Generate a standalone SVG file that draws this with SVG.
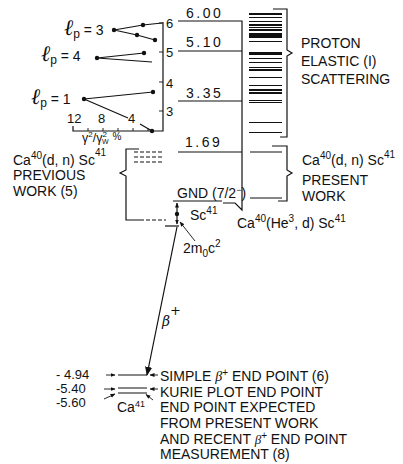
<svg xmlns="http://www.w3.org/2000/svg" width="403" height="464" viewBox="0 0 403 464">
<defs>
<style>
text{font-family:"Liberation Sans","DejaVu Sans",Arial,sans-serif;fill:#111;font-size:14px}
.num{letter-spacing:2.5px}
.tk{font-size:13px}
.sm{font-size:12.5px}
.ln{stroke:#111;stroke-width:1.2;fill:none}
.thin{stroke:#111;stroke-width:0.9;fill:none}
.dash{stroke:#111;stroke-width:1.1;fill:none;stroke-dasharray:4,2}
.bar{stroke:#111;fill:none}
.dot{fill:#111}
.gk{font-family:"DejaVu Serif","Liberation Serif",serif;font-style:italic}
.gs{font-family:"Liberation Serif","DejaVu Serif",serif;font-style:italic}
.ell{font-family:"DejaVu Serif","Liberation Serif",serif;font-style:italic;font-size:22px}
.bl{font-size:13px}
</style>
<marker id="ah" viewBox="0 0 10 10" refX="9" refY="5" markerWidth="9" markerHeight="9" markerUnits="userSpaceOnUse" orient="auto"><path d="M0,1 L10,5 L0,9 Z" fill="#111"/></marker>
<marker id="as" viewBox="0 0 10 10" refX="9" refY="5" markerWidth="5" markerHeight="5" markerUnits="userSpaceOnUse" orient="auto"><path d="M0,1 L10,5 L0,9 Z" fill="#111"/></marker>
</defs>
<rect width="403" height="464" fill="#fff"/>

<g id="plot">
<path class="ln" d="M163,22 V131 H73 V126"/>
<path class="thin" d="M159,23 H163 M159,52 H163 M159,82 H163 M159,111 H163 M88,131 V128 M103,131 V128 M118,131 V128 M133,131 V128 M148,131 V128"/>
<text class="tk" x="166" y="28">6</text>
<text class="tk" x="166" y="57">5</text>
<text class="tk" x="166" y="88">4</text>
<text class="tk" x="166" y="116">3</text>
<text class="tk" x="67" y="123">12</text>
<text class="tk" x="98" y="123">8</text>
<text class="tk" x="128" y="123">4</text>
<text class="sm" x="82" y="142">γ<tspan font-size="8" dy="-5">2</tspan><tspan dy="5">/γ</tspan><tspan font-size="8" dy="-5">2</tspan><tspan font-size="7" dx="-5" dy="7">W</tspan><tspan font-size="10" dx="4" dy="-4">%</tspan></text>
<path class="ln" d="M114,30 L143,25 L162,23 M114,30 L137,35 L155,40"/>
<circle class="dot" cx="114" cy="30" r="2.2"/><circle class="dot" cx="143" cy="25" r="2.2"/><circle class="dot" cx="137" cy="35" r="2.2"/><circle class="dot" cx="155" cy="40" r="2.2"/>
<path class="ln" d="M97,58 L144,53 M97,58 L152,62"/>
<circle class="dot" cx="97" cy="58" r="2.2"/><circle class="dot" cx="144" cy="53" r="2.2"/>
<path class="ln" d="M84,99 L153,92 M84,99 L128,118 M140,124 L152,131"/>
<circle class="dot" cx="84" cy="99" r="2.2"/><circle class="dot" cx="153" cy="92" r="2.2"/><circle class="dot" cx="152" cy="131" r="2.2"/>
<text x="64" y="35"><tspan class="ell">ℓ</tspan><tspan font-size="12" dy="3">p</tspan><tspan dy="-3"> = 3</tspan></text>
<text x="41" y="61"><tspan class="ell">ℓ</tspan><tspan font-size="12" dy="3">p</tspan><tspan dy="-3"> = 4</tspan></text>
<text x="31" y="104"><tspan class="ell">ℓ</tspan><tspan font-size="12" dy="3">p</tspan><tspan dy="-3"> = 1</tspan></text>
</g>

<g id="levels">
<path class="ln" d="M178,21 H242 V210 L235,203 H223 M178,51 H242 M178,101 H242 M178,152 H242 M173,201 H222"/>
<text class="num" x="186" y="18">6.00</text>
<text class="num" x="186" y="47">5.10</text>
<text class="num" x="186" y="98">3.35</text>
<text class="num" x="185" y="147">1.69</text>
<text x="177" y="198" font-size="12.5">GND (7/2<tspan font-size="9" dy="-5">−</tspan><tspan dy="5">)</tspan></text>
<text x="237" y="228">Ca<tspan font-size="10" dy="-6">40</tspan><tspan dy="6">(He</tspan><tspan font-size="10" dy="-6">3</tspan><tspan dy="6">, d) Sc</tspan><tspan font-size="10" dy="-6">41</tspan></text>
</g>

<g id="proton-bars">
<path class="bar" stroke-width="2" d="M249,14 H282"/>
<path class="bar" stroke-width="1" d="M249,17.5 H282 M249,21.5 H282 M249,27.5 H282 M249,41.5 H282 M249,58.5 H282 M249,62.5 H282 M249,67.5 H282 M249,77.5 H282 M249,85.5 H282 M249,100.5 H282 M249,102.5 H282 M249,122.5 H282 M249,132.5 H282"/>
<path class="bar" stroke-width="2" d="M249,25 H282 M249,30 H282 M249,70 H282 M249,90 H282 M249,93 H282"/>
<rect x="249" y="33" width="33" height="5" fill="#111"/>
<rect x="249" y="52" width="33" height="3" fill="#111"/>
<path class="ln" d="M273,9 H287 V50 L292,53 L287,56 V137 H280"/>
<text x="301" y="48">PROTON</text>
<text x="301" y="66">ELASTIC (I)</text>
<text x="301" y="84">SCATTERING</text>
</g>

<g id="present-work">
<path class="ln" d="M250,152 H282 M250,198 H282"/>
<path class="ln" d="M272,146 H287 V170 L292,173 L287,176 V201 H278"/>
<text x="302" y="165">Ca<tspan font-size="10" dy="-6">40</tspan><tspan dy="6">(d, n) Sc</tspan><tspan font-size="10" dy="-7">41</tspan></text>
<text x="302" y="185">PRESENT</text>
<text x="302" y="201">WORK</text>
</g>

<g id="previous-work">
<path class="ln" d="M139,149 H126 V170 L120,173 L126,176 V220 H140"/>
<path class="dash" d="M134,152 H164 M134,157 H164 M134,162 H164 M140,220 H166"/>
<text x="13" y="165">Ca<tspan font-size="10" dy="-6">40</tspan><tspan dy="6">(d, n) Sc</tspan><tspan font-size="10" dy="-9">41</tspan></text>
<text x="13" y="180">PREVIOUS</text>
<text x="13" y="196">WORK (5)</text>
</g>

<g id="sc41">
<path class="ln" d="M177,214 V203" marker-end="url(#as)"/>
<path class="ln" d="M177,214 V224" marker-end="url(#as)"/>
<circle class="dot" cx="177" cy="214" r="2.2"/>
<path class="ln" d="M165,226 H179"/>
<path class="thin" d="M195,241 L180,222" marker-end="url(#as)"/>
<text x="190" y="220">Sc<tspan font-size="10" dy="-6">41</tspan></text>
<text x="183" y="253">2m<tspan font-size="10" dy="4">0</tspan><tspan dy="-4">c</tspan><tspan font-size="10" dy="-6">2</tspan></text>
</g>

<g id="connectors">
<path class="ln" d="M177,227 L147,375" marker-end="url(#ah)"/>
<text x="162" y="326" class="gk" font-size="20">β<tspan font-style="normal" font-size="13" dy="-11">+</tspan></text>
</g>

<g id="ca41">
<path class="ln" d="M118,375 H147 M118,388 H147 M118,393 H147"/>
<path class="thin" d="M106,375 H115" marker-end="url(#as)"/>
<path class="thin" d="M158,375 H150" marker-end="url(#as)"/>
<path class="thin" d="M104,389 H115" marker-end="url(#as)"/>
<path class="thin" d="M158,389 H150" marker-end="url(#as)"/>
<path class="thin" d="M104,399 L115,394" marker-end="url(#as)"/>
<path class="thin" d="M153,400 L146,394.5" marker-end="url(#as)"/>
<text class="bl" x="56" y="379">- 4.94</text>
<text class="bl" x="56" y="393">-5.40</text>
<text class="bl" x="56" y="407">-5.60</text>
<text x="117" y="412" font-size="12">Ca<tspan font-size="9" dy="-5">41</tspan></text>
<text x="160" y="381">SIMPLE <tspan class="gs" font-size="14">β</tspan><tspan font-size="10" dy="-5">+</tspan><tspan dy="5"> END POINT (6)</tspan></text>
<text x="160" y="397">KURIE PLOT END POINT</text>
<text x="160" y="412">END POINT EXPECTED</text>
<text x="160" y="428">FROM PRESENT WORK</text>
<text x="160" y="444">AND RECENT <tspan class="gs" font-size="13">β</tspan><tspan font-size="10" dy="-5">+</tspan><tspan dy="5"> END POINT</tspan></text>
<text x="160" y="459">MEASUREMENT (8)</text>
</g>
</svg>
